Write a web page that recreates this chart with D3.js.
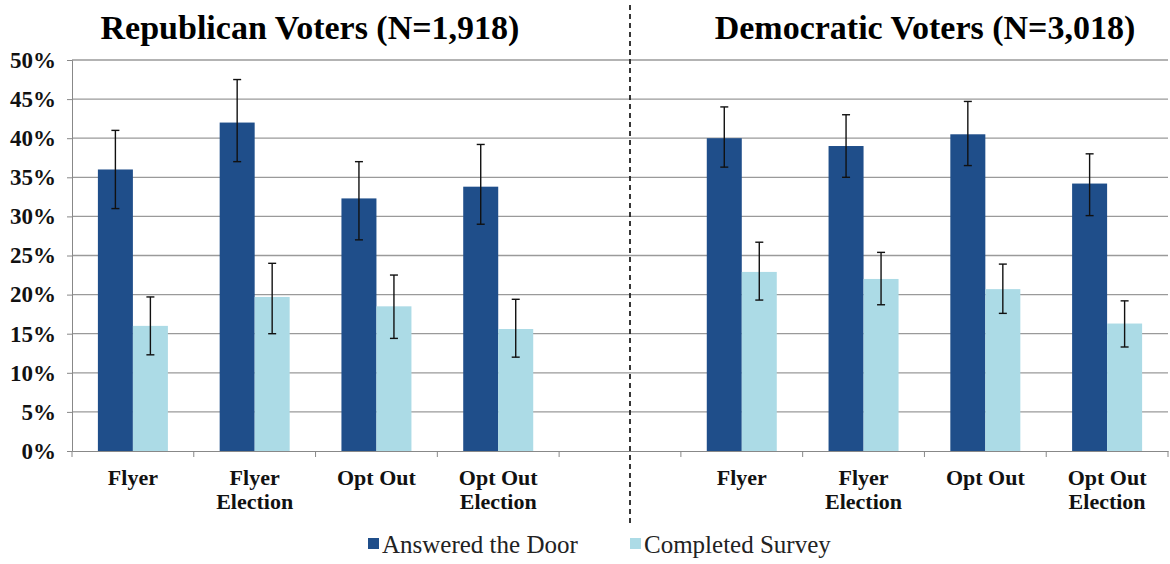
<!DOCTYPE html>
<html><head><meta charset="utf-8">
<script src="https://cdn.jsdelivr.net/npm/d3@7"></script>
<style>body{margin:0;background:#fff}text{font-family:"Liberation Serif","Times New Roman",serif}</style>
</head><body><div id="chart"></div>
<script>
// categories (empty slot separates the two panels)
const categories = ["Flyer|R", "Flyer Election|R", "Opt Out|R", "Opt Out Election|R", "gap", "Flyer|D", "Flyer Election|D", "Opt Out|D", "Opt Out Election|D"];
const answered = [36, 42, 32.3, 33.8, null, 40, 39, 40.5, 34.2];
const answeredLo = [31, 37, 27, 29, null, 36.3, 35, 36.5, 30.1];
const answeredHi = [41, 47.5, 37, 39.2, null, 44, 43, 44.7, 38];
const completed = [16, 19.7, 18.5, 15.6, null, 22.9, 22, 20.7, 16.3];
const completedLo = [12.3, 15, 14.4, 12, null, 19.3, 18.7, 17.6, 13.3];
const completedHi = [19.7, 24, 22.5, 19.4, null, 26.7, 25.4, 23.9, 19.2];
const yTicks = [0, 5, 10, 15, 20, 25, 30, 35, 40, 45, 50];
const seriesNames = ["Answered the Door", "Completed Survey"];
const colors = ["#1f4e8a", "#acdbe6"];

const width = 1170, height = 564;
const svg = d3.select("#chart").append("svg").attr("width", width).attr("height", height);

const x = d3.scaleBand().domain(categories).range([72, 1168]);
const y = d3.scaleLinear().domain([0, 50]).range([451, 60]);
const barW = 35;

// gridlines
svg.append("g").selectAll("line").data(yTicks.slice(1)).join("line")
  .attr("x1", 72).attr("x2", 1168).attr("y1", d => y(d)).attr("y2", d => y(d))
  .attr("stroke", "#9a9a9a").attr("stroke-width", 1.3);

// y axis
const yAxis = svg.append("g").attr("transform", "translate(72,0)")
  .call(d3.axisLeft(y).tickValues(yTicks).tickFormat(d => d + "%").tickSize(5));
yAxis.select(".domain").attr("stroke", "#888");
yAxis.selectAll(".tick line").attr("stroke", "#888");
yAxis.selectAll("text").attr("font-size", 23).attr("font-weight", "bold").attr("fill", "#111")
  .attr("font-family", "Liberation Serif, serif").attr("x", -16);

// x axis
const xAxis = svg.append("g").attr("transform", "translate(0,451)")
  .call(d3.axisBottom(x).tickSize(0).tickFormat(""));
xAxis.select(".domain").attr("stroke", "#888");
svg.append("g").selectAll("line").data(categories.concat(["end"])).join("line")
  .attr("x1", (d, i) => 72 + i * x.step()).attr("x2", (d, i) => 72 + i * x.step())
  .attr("y1", 451).attr("y2", 457).attr("stroke", "#888");

const labels = svg.append("g");
categories.forEach(c => {
  if (c === "gap") return;
  const words = c.split("|")[0];
  const lines = words === "Opt Out Election" ? ["Opt Out", "Election"] : words === "Flyer Election" ? ["Flyer", "Election"] : [words];
  const cx = x(c) + x.bandwidth() / 2;
  lines.forEach((l, j) => labels.append("text").attr("x", cx).attr("y", 485 + j * 24)
    .attr("text-anchor", "middle").attr("font-size", 22).attr("font-weight", "bold").attr("fill", "#111").text(l));
});

// bars + error bars
const series = [[answered, answeredLo, answeredHi], [completed, completedLo, completedHi]];
series.forEach(([vals, lo, hi], s) => {
  const data = categories.map((c, i) => ({ c, v: vals[i], lo: lo[i], hi: hi[i] })).filter(d => d.v != null);
  const bx = d => x(d.c) + x.bandwidth() / 2 - barW + s * barW;
  svg.append("g").selectAll("rect").data(data).join("rect")
    .attr("x", bx).attr("width", barW).attr("y", d => y(d.v)).attr("height", d => y(0) - y(d.v))
    .attr("fill", colors[s]);
  const eg = svg.append("g").attr("stroke", "#111").attr("stroke-width", 1.4);
  data.forEach(d => {
    const cx = bx(d) + barW / 2;
    eg.append("line").attr("x1", cx).attr("x2", cx).attr("y1", y(d.lo)).attr("y2", y(d.hi));
    [d.lo, d.hi].forEach(v => eg.append("line").attr("x1", cx - 4).attr("x2", cx + 4).attr("y1", y(v)).attr("y2", y(v)));
  });
});

// divider
svg.append("line").attr("x1", 630).attr("x2", 630).attr("y1", 5).attr("y2", 525)
  .attr("stroke", "#222").attr("stroke-width", 1.8).attr("stroke-dasharray", "5,4");

// titles
svg.append("text").attr("x", 310).attr("y", 39).attr("text-anchor", "middle")
  .attr("font-size", 34).attr("font-weight", "bold").text("Republican Voters (N=1,918)");
svg.append("text").attr("x", 925).attr("y", 39).attr("text-anchor", "middle")
  .attr("font-size", 34).attr("font-weight", "bold").text("Democratic Voters (N=3,018)");

// legend
const lg = svg.append("g").attr("transform", "translate(368,546)");
const lx = [0, 262];
seriesNames.forEach((n, i) => {
  lg.append("rect").attr("x", lx[i]).attr("y", -8).attr("width", 11).attr("height", 11).attr("fill", colors[i]);
  lg.append("text").attr("x", lx[i] + 14).attr("y", 1).attr("dominant-baseline", "middle")
    .attr("font-size", 25).attr("fill", "#222").text(n);
});
</script></body></html>
